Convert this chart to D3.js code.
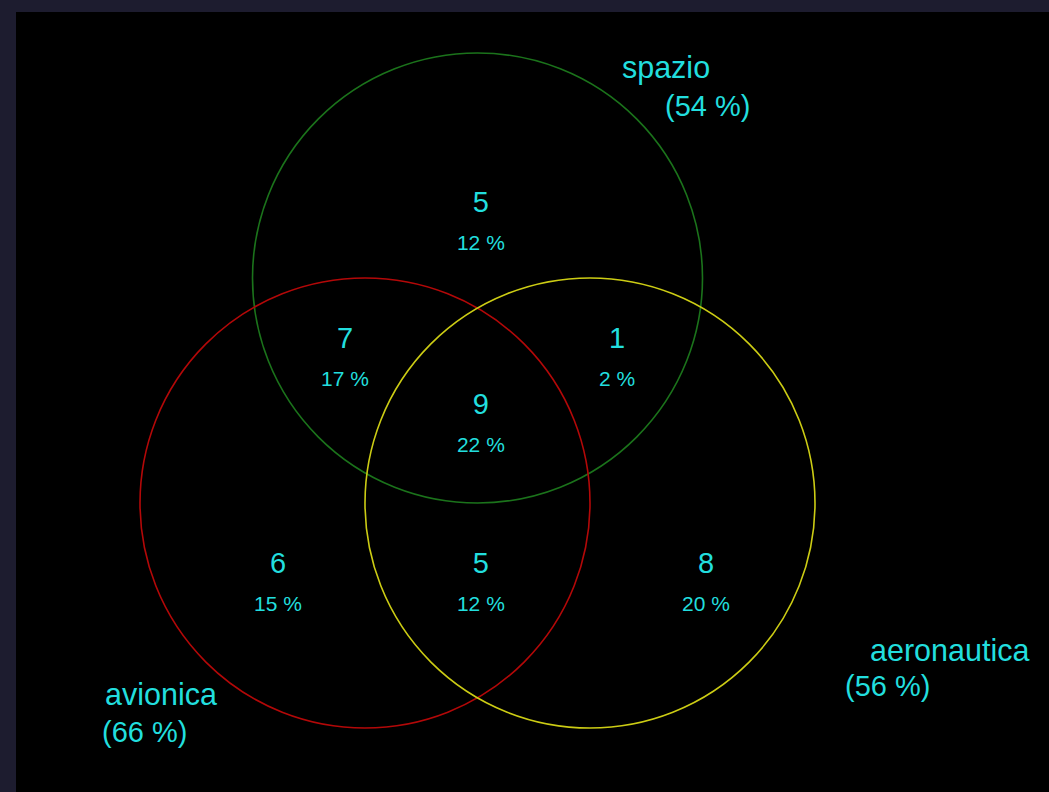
<!DOCTYPE html>
<html>
<head>
<meta charset="utf-8">
<script src="https://cdn.jsdelivr.net/npm/d3@7"></script>
<style>
  html, body { margin: 0; padding: 0; background: #1d1c2f; overflow: hidden; }
  svg { display: block; }
  text { font-family: "Liberation Sans", Arial, sans-serif; fill: #22dede; }
</style>
</head>
<body>
<svg id="chart" width="1049" height="792"></svg>
<script>
// ---- data ----
const sets = ["spazio", "avionica", "aeronautica"];
const setPercents = [54, 66, 56];
const setColors = ["#1b731b", "#b30808", "#cccc14"];
const regions = ["spazio", "spazio&avionica", "spazio&aeronautica", "spazio&avionica&aeronautica", "avionica", "avionica&aeronautica", "aeronautica"];
const regionCounts = [5, 7, 1, 9, 6, 5, 8];
const regionPercents = [12, 17, 2, 22, 15, 12, 20];

// ---- layout (unit space: circle radius = 2 units) ----
const setRadius = 2;
const setCenters = { spazio: [0, -2], avionica: [-1, 0], aeronautica: [1, 0] };
const regionPos = {
  "spazio": [0.03, -2.587],
  "spazio&avionica": [-1.178, -1.378],
  "spazio&aeronautica": [1.24, -1.378],
  "spazio&avionica&aeronautica": [0.03, -0.791],
  "avionica": [-1.773, 0.622],
  "avionica&aeronautica": [0.03, 0.622],
  "aeronautica": [2.031, 0.622]
};
const setLabelPos = {
  spazio: { name: [1.284, -3.778], pct: [1.667, -3.44] },
  avionica: { name: [-3.311, 1.796], pct: [-3.338, 2.124] },
  aeronautica: { name: [3.489, 1.404], pct: [3.267, 1.716] }
};

const svg = d3.select("#chart");
svg.append("rect").attr("x", 16).attr("y", 12).attr("width", 1049 - 16).attr("height", 792 - 12).attr("fill", "#000");

const x = d3.scaleLinear().domain([0, 1]).range([477.5, 590]);
const y = d3.scaleLinear().domain([0, 1]).range([503, 615.5]);
const rPx = x(setRadius) - x(0);

svg.selectAll("circle.set").data(sets).enter().append("circle")
  .attr("class", "set")
  .attr("cx", d => x(setCenters[d][0]))
  .attr("cy", d => y(setCenters[d][1]))
  .attr("r", rPx)
  .attr("fill", "none")
  .attr("stroke", (d, i) => setColors[i])
  .attr("stroke-width", 1.6);

const rg = svg.selectAll("g.region").data(regions).enter().append("g")
  .attr("class", "region")
  .attr("transform", d => `translate(${x(regionPos[d][0])},${y(regionPos[d][1])})`);
rg.append("text").attr("text-anchor", "middle").attr("y", 0)
  .style("font-size", "29px").text((d, i) => regionCounts[i]);
rg.append("text").attr("text-anchor", "middle").attr("y", 38)
  .style("font-size", "21px").text((d, i) => regionPercents[i] + " %");

sets.forEach((s, i) => {
  const p = setLabelPos[s];
  svg.append("text").attr("x", x(p.name[0])).attr("y", y(p.name[1]))
    .attr("text-anchor", "start").style("font-size", "30.5px").text(s);
  svg.append("text").attr("x", x(p.pct[0])).attr("y", y(p.pct[1]))
    .attr("text-anchor", "start").style("font-size", "29px").text("(" + setPercents[i] + " %)");
});
</script>
</body>
</html>
